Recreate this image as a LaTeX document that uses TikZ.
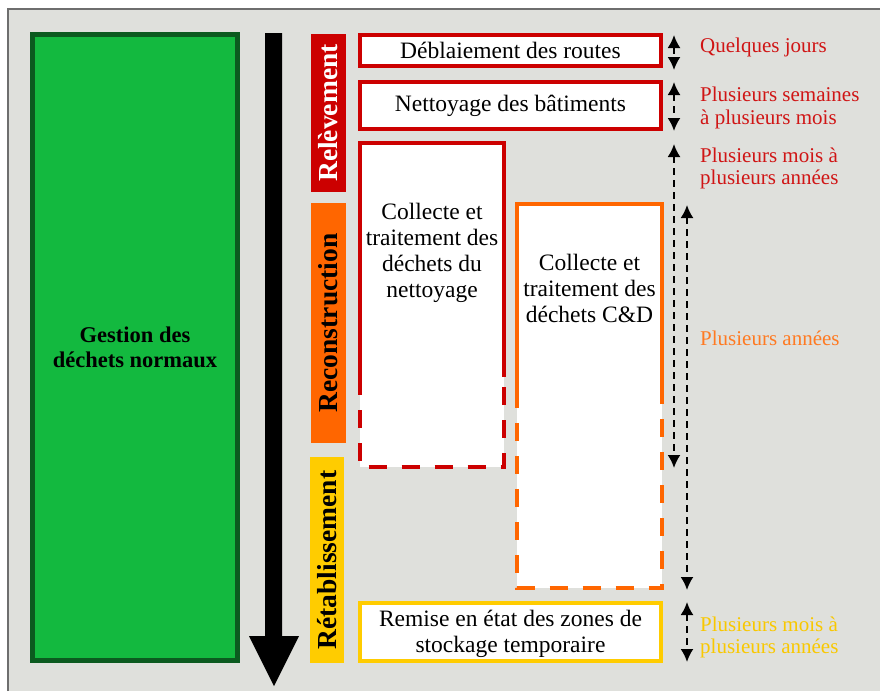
\documentclass[tikz,border=0pt]{standalone}
\usepackage{fontspec}
\setmainfont{Liberation Serif}
\usetikzlibrary{arrows.meta,calc}
\definecolor{bg}{HTML}{DFE0DC}
\definecolor{frame}{HTML}{6E6E6E}
\definecolor{rred}{HTML}{CC0000}
\definecolor{oorange}{HTML}{FF6600}
\definecolor{yyellow}{HTML}{FFCC00}
\definecolor{gfill}{HTML}{13B93F}
\definecolor{gdark}{HTML}{0B5A1F}
\definecolor{lred}{HTML}{D01515}
\definecolor{lorange}{HTML}{FF7A22}
\definecolor{lyellow}{HTML}{F9C800}
\begin{document}
\begin{tikzpicture}[x=1pt,y=-1pt,
  taskbox/.style={draw, fill=white, line width=4pt, inner sep=0pt, align=center,
    font=\fontsize{23.5}{26}\selectfont},
  tasktext/.style={inner sep=0pt, align=center, font=\fontsize{23.5}{26}\selectfont},
  phasebar/.style={inner sep=0pt, rotate=90, font=\fontsize{27.5}{30}\selectfont\bfseries},
  durlabel/.style={inner sep=0pt, anchor=west, align=left, font=\fontsize{21}{22.5}\selectfont},
  span/.style={line width=2pt, dash pattern=on 7pt off 5pt,
    {Latex[length=13pt,width=13pt]}-{Latex[length=13pt,width=13pt]}},
  solidedge/.style={line width=4pt},
  dashedge/.style={line width=4pt, dash pattern=on 18pt off 15pt}
]
\useasboundingbox (0,0) rectangle (880,691);
\fill[white] (0,0) rectangle (880,691);
\fill[bg] (8,9) rectangle (880,691);
\draw[frame, line width=1.5pt] (8,691) -- (8,9) -- (880,9);

% green block
\node[draw=gdark, fill=gfill, line width=5pt, minimum width=205pt, minimum height=626pt,
  inner sep=0pt, align=center, font=\fontsize{22.5}{25}\selectfont\bfseries]
  (green) at (135,347.5) {Gestion des\\déchets normaux};

% big time arrow
\fill[black] (265,33) -- (282,33) -- (282,636) -- (299,636) -- (274,686) -- (249,636) -- (265,636) -- cycle;

% phase bars
\node[phasebar, fill=rred, text=white, minimum width=158pt, minimum height=35pt]
  (rel) at (328.5,113) {Relèvement};
\node[phasebar, fill=oorange, text=black, minimum width=240pt, minimum height=35pt]
  (rec) at (328.5,323) {Reconstruction};
\node[phasebar, fill=yyellow, text=black, minimum width=206pt, minimum height=34pt]
  (ret) at (327,560) {Rétablissement};

% tasks
\node[taskbox, draw=rred, minimum width=301pt, minimum height=31pt]
  (deb) at (510.5,50.5) {Déblaiement des routes};
\node[taskbox, draw=rred, minimum width=301pt, minimum height=47pt]
  (net) at (510.5,105.5) {Nettoyage des bâtiments};
\node[draw=yyellow, fill=white, line width=4pt, inner sep=0pt,
  minimum width=301pt, minimum height=58pt] (rem) at (510.5,632) {};
\node[tasktext] (remt) at (510.5,634) {Remise en état des zones de\\stockage temporaire};

% split boxes (solid then dashed)
\node[fill=white, inner sep=0pt, minimum width=144pt, minimum height=324pt] (rc) at (432,305) {};
\draw[rred, solidedge] (rc.west |- 0,377) -- (rc.north west) -- (rc.north east) -- (rc.east |- 0,377);
\draw[rred, dashedge] (rc.west |- 0,377) -- (rc.south west) -- (rc.south east) -- (rc.east |- 0,377);
\node[tasktext] (rct) at (432,252.5) {Collecte et\\traitement des\\déchets du\\nettoyage};

\node[fill=white, inner sep=0pt, minimum width=145pt, minimum height=384pt] (oc) at (589.5,396) {};
\draw[oorange, solidedge] (oc.west |- 0,390) -- (oc.north west) -- (oc.north east) -- (oc.east |- 0,390);
\draw[oorange, dashedge] (oc.west |- 0,390) -- (oc.south west) -- (oc.south east) -- (oc.east |- 0,390);
\node[tasktext] (oct) at (589.5,288.5) {Collecte et\\traitement des\\déchets C\&D};

% duration spans
\coordinate (a1t) at (674,35);  \coordinate (a1b) at (674,70);
\coordinate (a2t) at (674,82);  \coordinate (a2b) at (674,131);
\coordinate (a3t) at (674,144); \coordinate (a3b) at (674,468);
\coordinate (a4t) at (687,205); \coordinate (a4b) at (687,590);
\coordinate (a5t) at (687,602); \coordinate (a5b) at (687,662);
\draw[span] (a1t) -- (a1b);
\draw[span] (a2t) -- (a2b);
\draw[span] (a3t) -- (a3b);
\draw[span] (a4t) -- (a4b);
\draw[span] (a5t) -- (a5b);

% duration labels
\node[durlabel, text=lred] (d1) at (700,47) {Quelques jours};
\node[durlabel, text=lred] (d2) at (700,108) {Plusieurs semaines\\à plusieurs mois};
\node[durlabel, text=lred] (d3) at (700,168.5) {Plusieurs mois à\\plusieurs années};
\node[durlabel, text=lorange] (d4) at (700,338) {Plusieurs années};
\node[durlabel, text=lyellow] (d5) at (700,637.5) {Plusieurs mois à\\plusieurs années};
\end{tikzpicture}
\end{document}
